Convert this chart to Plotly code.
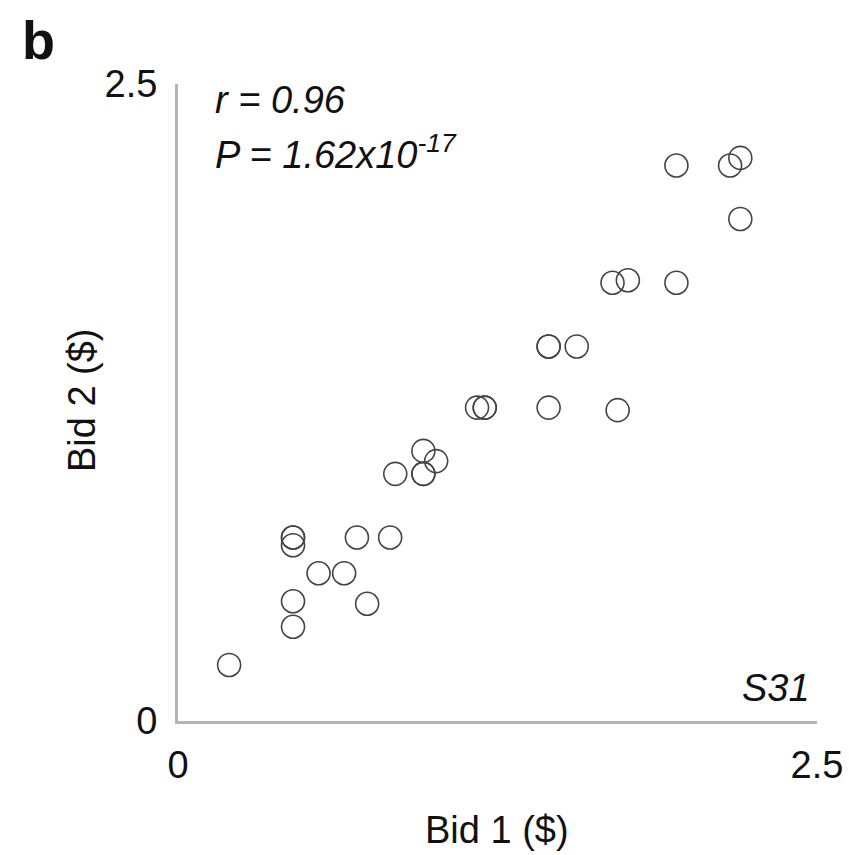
import plotly.graph_objects as go

# Bids from the same subjects on two occasions ($)
bid1 = [0.20, 0.45, 0.45, 0.45, 0.45, 0.45, 0.55, 0.65, 0.70, 0.74, 0.83,
        0.85, 0.96, 0.96, 0.96, 1.01, 1.17, 1.20, 1.20, 1.45, 1.45, 1.45,
        1.56, 1.72, 1.70, 1.76, 1.95, 1.95, 2.16, 2.20, 2.20]
bid2 = [0.22, 0.37, 0.47, 0.69, 0.72, 0.72, 0.58, 0.58, 0.72, 0.46, 0.72,
        0.97, 0.97, 0.97, 1.06, 1.02, 1.23, 1.23, 1.23, 1.23, 1.47, 1.47,
        1.47, 1.22, 1.72, 1.73, 1.72, 2.18, 2.18, 2.21, 1.97]

stats_r = "r = 0.96"
stats_p = "P = 1.62x10<sup>-17</sup>"
subject = "S31"
panel = "b"
x_title = "Bid 1 ($)"
y_title = "Bid 2 ($)"
tick_vals = [0, 2.5]
tick_text = ["0", "2.5"]

FONT = "Liberation Sans, Arial, sans-serif"
AXIS_GREY = "#b4b4b4"
TEXT_SIZE = 38

fig = go.Figure(
    go.Scatter(
        x=bid1, y=bid2, mode="markers",
        marker=dict(symbol="circle-open", size=23,
                    color="#444444", line=dict(width=1.6, color="#444444")),
        hoverinfo="x+y",
    )
)

axis_common = dict(
    range=[0, 2.5], tickvals=tick_vals, ticktext=tick_text,
    showgrid=False, zeroline=False, showline=True,
    linecolor=AXIS_GREY, linewidth=3, ticks="",
    tickfont=dict(family=FONT, size=TEXT_SIZE, color="#111111"),
)

fig.update_layout(
    width=849, height=855,
    margin=dict(l=178, r=32, t=84, b=134, autoexpand=False),
    paper_bgcolor="white", plot_bgcolor="white",
    showlegend=False,
    xaxis=dict(**axis_common, ticklabelstandoff=8),
    yaxis=dict(**axis_common, ticklabelstandoff=10),
    font=dict(family=FONT, color="#111111"),
)

ann_font = dict(family=FONT, size=TEXT_SIZE, color="#111111")
fig.add_annotation(text=x_title, xref="paper", yref="paper", x=0.499, y=-0.171,
                   showarrow=False, xanchor="center", yanchor="middle", font=ann_font)
fig.add_annotation(text=y_title, xref="paper", yref="paper", x=-0.150, y=0.504,
                   showarrow=False, textangle=-90, xanchor="center", yanchor="middle",
                   font=ann_font)
fig.add_annotation(text=f"<i>{stats_r}</i>", xref="paper", yref="paper",
                   x=0.055, y=0.975, showarrow=False, xanchor="left", yanchor="middle",
                   font=ann_font)
fig.add_annotation(text=f"<i>{stats_p}</i>", xref="paper", yref="paper",
                   x=0.055, y=0.894, showarrow=False, xanchor="left", yanchor="middle",
                   font=ann_font)
fig.add_annotation(text=f"<i>{subject}</i>", xref="paper", yref="paper",
                   x=0.992, y=0.052, showarrow=False, xanchor="right", yanchor="middle",
                   font=ann_font)
fig.add_annotation(text=f"<b>{panel}</b>", xref="paper", yref="paper",
                   x=-0.247, y=1.069, showarrow=False, xanchor="left", yanchor="middle",
                   font=dict(family=FONT, size=54, color="#111111"))

fig.write_html("out.html")
